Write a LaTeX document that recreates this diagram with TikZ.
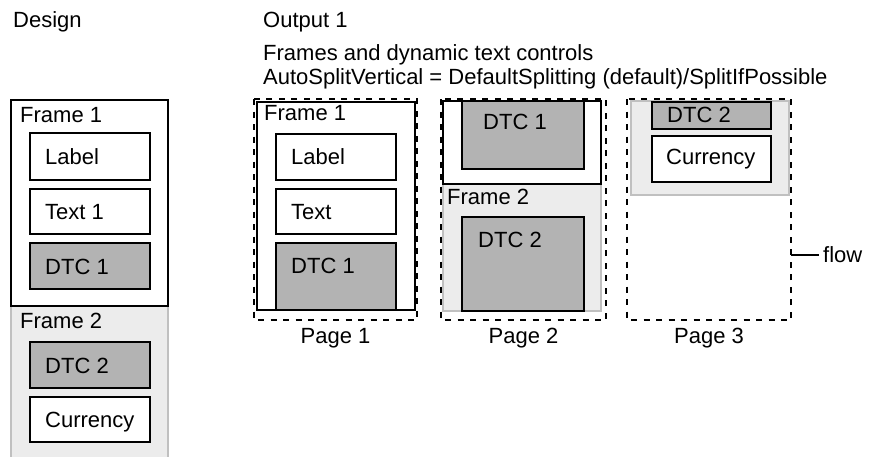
\documentclass[tikz,border=0pt]{standalone}
\usepackage{fontspec}
\setmainfont{Liberation Sans}
\definecolor{dtcgray}{HTML}{B3B3B3}
\definecolor{frbfill}{HTML}{ECECEC}
\definecolor{frbdraw}{HTML}{C0C0C0}
\begin{document}
\begin{tikzpicture}[x=1pt,y=-1pt,
  frameA/.style={draw=black,line width=1.6pt,fill=white},
  frameB/.style={draw=frbdraw,line width=1.6pt,fill=frbfill},
  ctrl/.style={draw=black,line width=1.6pt,fill=white},
  dtc/.style={draw=black,line width=1.6pt,fill=dtcgray},
  pagebox/.style={draw=black,line width=2.2pt,dash pattern=on 6pt off 6.5pt},
  txt/.style={anchor=base west,inner sep=0pt,font=\fontsize{22}{26}\selectfont},
  ptxt/.style={anchor=base,inner sep=0pt,font=\fontsize{22}{26}\selectfont},
  flowline/.style={draw=black,line width=1.6pt}]
\clip (0,0) rectangle (871,456);
\fill[white] (0,0) rectangle (871,456);
% headings
\node[txt] (hdesign) at (13,27) {Design};
\node[txt] (hout) at (263,27) {Output 1};
\node[txt] (hframes) at (263,60) {Frames and dynamic text controls};
\node[txt] (hsplit) at (263,84) {AutoSplitVertical = DefaultSplitting (default)/SplitIfPossible};
% ---- Design column
\path[frameB] (11,306) rectangle (168,470);
\path[frameA] (11,100) rectangle (168,306);
\path[ctrl] (30,133) rectangle (150,180);
\path[ctrl] (30,189) rectangle (150,234);
\path[dtc] (30,243) rectangle (150,289);
\path[dtc] (30,342) rectangle (150,388);
\path[ctrl] (30,397) rectangle (150,442);
\node[txt] (dfr1) at (20,122) {Frame 1};
\node[txt] (dlabel) at (45,164) {Label};
\node[txt] (dtext) at (45,219) {Text 1};
\node[txt] (ddtc1) at (45,274) {DTC 1};
\node[txt] (dfr2) at (20,328) {Frame 2};
\node[txt] (ddtc2) at (45,373) {DTC 2};
\node[txt] (dcur) at (45,427) {Currency};
% ---- Page 1
\path[pagebox] (254,99) rectangle (417,320);
\path[frameA] (257,102) rectangle (415,310);
\path[ctrl] (276,134) rectangle (396,180);
\path[ctrl] (276,189) rectangle (396,234);
\path[dtc] (276,243) rectangle (396,310);
\draw[line width=1.6pt] (257,310) -- (415,310);
\node[txt] (p1fr1) at (264,120) {Frame 1};
\node[txt] (p1label) at (291,164) {Label};
\node[txt] (p1text) at (291,219) {Text};
\node[txt] (p1dtc1) at (291,273) {DTC 1};
\node[ptxt] (page1) at (335.5,343) {Page 1};
% ---- Page 2
\path[pagebox] (441,99) rectangle (606,320);
\path[frameB] (443,184) rectangle (601,311);
\path[frameA] (443,101) rectangle (601,184);
\path[dtc] (462,101) rectangle (584,169);
\path[dtc] (462,217) rectangle (584,311);
\node[txt] (p2dtc1) at (483,129) {DTC 1};
\node[txt] (p2fr2) at (447,204) {Frame 2};
\node[txt] (p2dtc2) at (478,247) {DTC 2};
\node[ptxt] (page2) at (523.5,343) {Page 2};
% ---- Page 3
\path[pagebox] (627,99) rectangle (791,320);
\path[frameB] (631,101) rectangle (789,195);
\path[dtc] (652,102) rectangle (771,129);
\path[ctrl] (652,136) rectangle (771,182);
\node[txt] (p3dtc2) at (667,122) {DTC 2};
\node[txt] (p3cur) at (666,164) {Currency};
\node[ptxt] (page3) at (709,343) {Page 3};
% ---- flow
\coordinate (p3east) at (791,255);
\node[txt] (flow) at (823,262) {flow};
\draw[flowline] (p3east) -- (819,255);
\end{tikzpicture}
\end{document}
